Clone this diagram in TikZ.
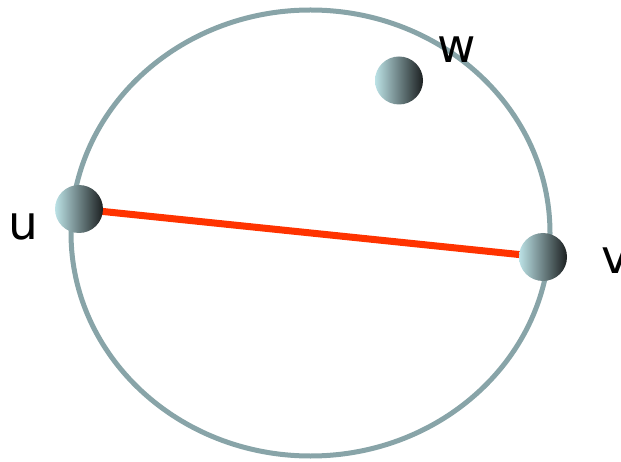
\documentclass[tikz,border=0pt]{standalone}
\usepackage{fontspec}
\setmainfont{DejaVu Sans}
\usetikzlibrary{positioning}
\definecolor{ringgray}{RGB}{136,164,168}
\definecolor{edgered}{RGB}{255,51,0}
\definecolor{balllight}{RGB}{188,226,230}
\definecolor{ballmid}{RGB}{150,180,183}
\definecolor{balldark}{RGB}{28,32,33}

\begin{document}
\begin{tikzpicture}[
    x=1pt, y=-1pt,
    vertex/.style={circle, minimum size=48pt, inner sep=0pt, shading=axis, left color=balllight, middle color=ballmid, right color=balldark},
    ring/.style={draw=ringgray, line width=5pt},
    edge/.style={draw=edgered, line width=7pt},
    vlabel/.style={font=\fontsize{47}{47}\selectfont, inner sep=0pt},
]
\useasboundingbox (0,0) rectangle (621,462);

% ====== Ring ======
\draw[ring] (310.5,233) ellipse [x radius=239.5, y radius=223];

% ====== Vertices ======
\coordinate (pu) at (79,209);
\coordinate (pv) at (543,257);
\coordinate (pw) at (399,80.5);
\draw[edge] (pu) -- (pv);
\node[vertex] (u) at (pu) {};
\node[vertex] (v) at (pv) {};
\node[vertex] (w) at (pw) {};

% ====== Labels ======
\node[vlabel] (lu) at (23.5,227) {u};
\node[vlabel] (lv) at (615,260.5) {v};
\node[vlabel] (lw) at (456.5,50) {w};

\end{tikzpicture}
\end{document}
